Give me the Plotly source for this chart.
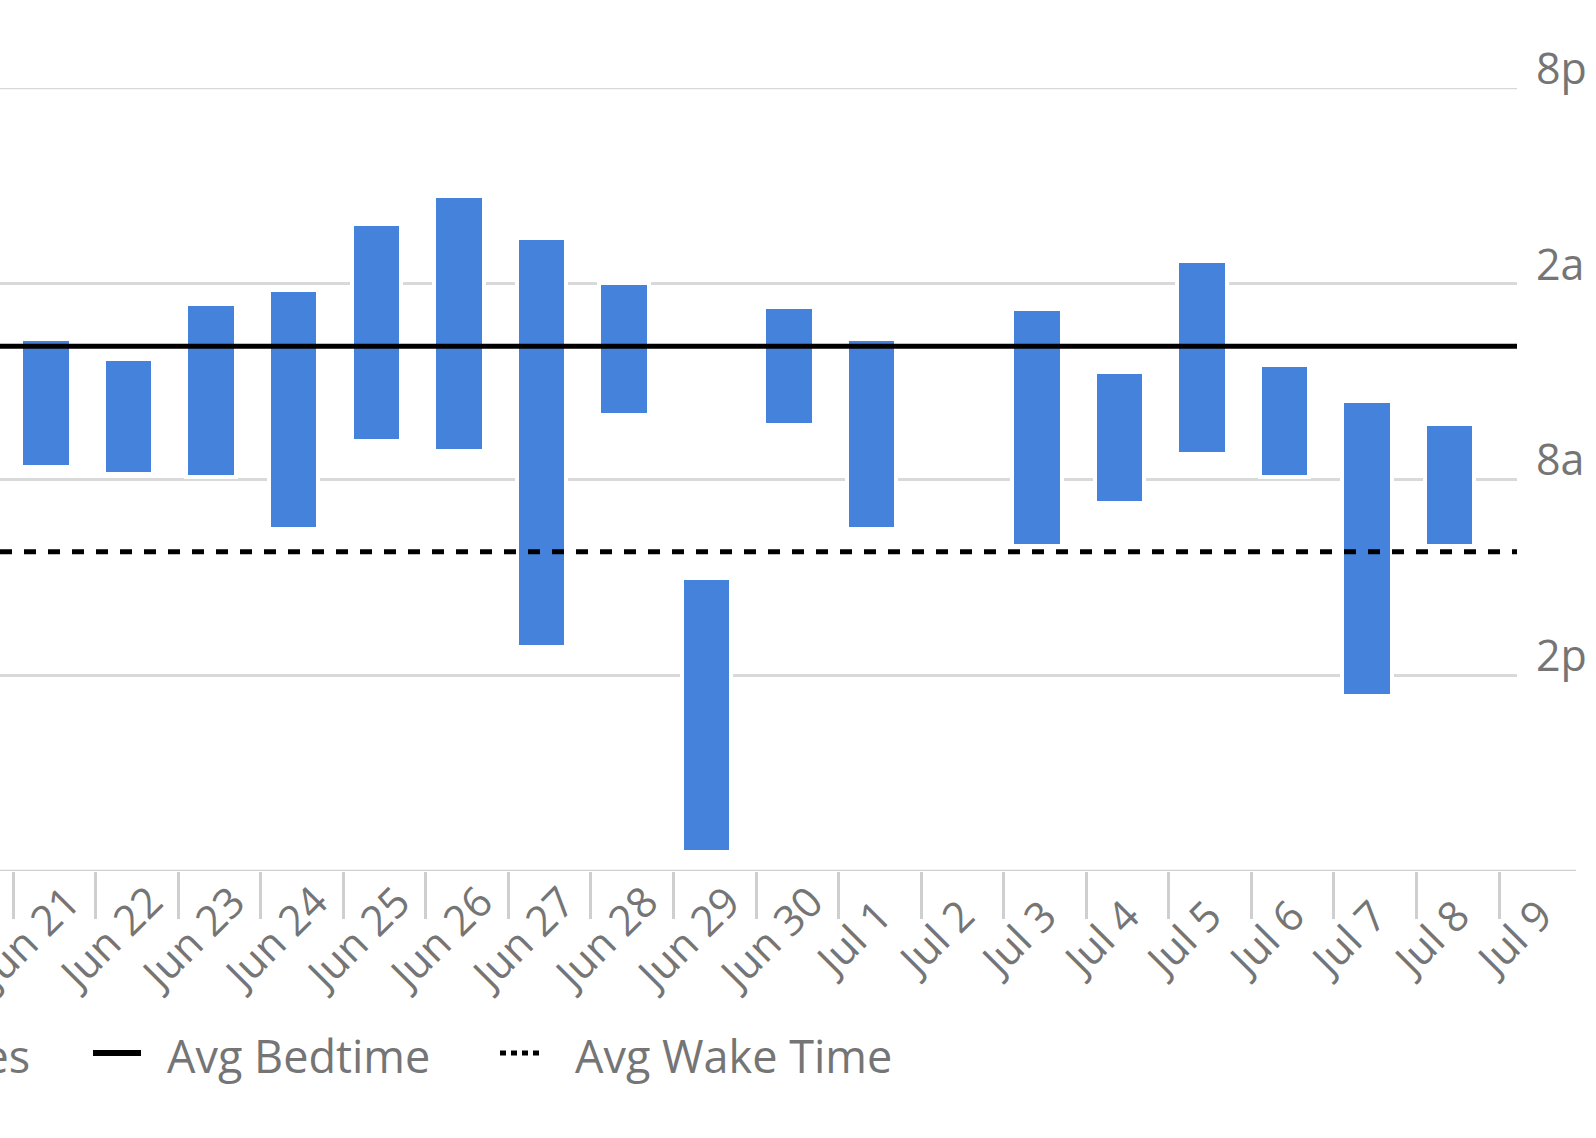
import plotly.graph_objects as go

# ---------------- data ----------------
day_labels = ["Jun 21", "Jun 22", "Jun 23", "Jun 24", "Jun 25", "Jun 26", "Jun 27",
              "Jun 28", "Jun 29", "Jun 30", "Jul 1", "Jul 2", "Jul 3", "Jul 4",
              "Jul 5", "Jul 6", "Jul 7", "Jul 8", "Jul 9"]
bedtimes = ["03:46", "04:22", "02:40", "02:16", "00:14", "23:22", "00:40", "02:03",
            "11:04", "02:46", "03:46", None, "02:51", "04:46", "01:21", "04:34",
            "05:40", "06:22"]
wake_times = ["07:34", "07:46", "07:52", "09:28", "06:46", "07:04", "13:04", "05:58",
              "19:22", "06:16", "09:28", None, "09:58", "08:40", "07:10", "07:52",
              "14:34", "09:58"]
avg_bedtime = "03:55"
avg_wake_time = "10:13"
y_tick_times = ["20:00", "02:00", "08:00", "14:00"]
y_tick_text = ["8pm", "2am", "8am", "2pm"]
series_names = ["Sleep Times", "Avg Bedtime", "Avg Wake Time"]

# ---------------- layout constants ----------------
# the reference is a crop of a wider chart: the figure stops at the crop edge
W, H = 1587, 1138
ML, MR, MT, MB = 0, 70, 88, 267
PW, PH = W - ML - MR, H - MT - MB
TICK_PX = 82.56
FIRST_TICK_PX = 13
BAR_COLOR = "#4582dc"
GRID = "#d9d9d9"
AXIS = "#cfcfcf"
TXT = "#757575"
FONT = "Open Sans"
STROKE = 4


def hrs(t):
    hh, mm = t.split(":")
    return ((int(hh) + int(mm) / 60.0) - 20.0) % 24.0


x_range = [-FIRST_TICK_PX / TICK_PX, (PW - FIRST_TICK_PX) / TICK_PX]
pad = (STROKE / 2) / (PH / 24.0)

bx, bbase, bh = [], [], []
for i, (b, w) in enumerate(zip(bedtimes, wake_times)):
    if b is None or w is None:
        continue
    hb, hw = hrs(b), hrs(w)
    bx.append(i + 0.4)
    bbase.append(hb - pad)
    bh.append(hw - hb + 2 * pad)

fig = go.Figure()
fig.add_trace(go.Bar(
    x=bx, y=bh, base=bbase, width=0.6, name=series_names[0],
    marker=dict(color=BAR_COLOR, line=dict(color="white", width=STROKE)),
    showlegend=False,
))
fig.add_trace(go.Scatter(
    x=x_range, y=[hrs(avg_bedtime)] * 2, mode="lines", name=series_names[1],
    line=dict(color="black", width=5), showlegend=False,
))
fig.add_trace(go.Scatter(
    x=x_range, y=[hrs(avg_wake_time)] * 2, mode="lines", name=series_names[2],
    line=dict(color="black", width=5, dash="12px,12px"), showlegend=False,
))


def px_x(p):
    return (p - ML) / PW


def px_y(p):
    return ((MT + PH) - p) / PH


shapes = [
    # top gridline (8pm)
    dict(type="line", xref="paper", yref="y", x0=0, x1=1, y0=hrs(y_tick_times[0]),
         y1=hrs(y_tick_times[0]), line=dict(color=GRID, width=2.5), layer="below"),
    # baseline of the x axis, extending past the plot area
    dict(type="line", xref="paper", yref="y", x0=0, x1=px_x(1576), y0=24, y1=24,
         line=dict(color=AXIS, width=2.5)),
]

annotations = []
label_y = px_y(937)
for i, lab in enumerate(day_labels):
    annotations.append(dict(
        x=i, xref="x", y=label_y, yref="paper", text=lab, showarrow=False,
        textangle=-45, xanchor="center", yanchor="middle", xshift=13,
        font=dict(family=FONT, size=42, color=TXT),
    ))

leg_y = 1053
LFS = 45
annotations.append(dict(x=px_x(32), y=px_y(1055), xref="paper", yref="paper",
                        text=series_names[0], showarrow=False, xanchor="right",
                        yanchor="middle", font=dict(family=FONT, size=LFS, color=TXT)))
shapes.append(dict(type="line", xref="paper", yref="paper", x0=px_x(93), x1=px_x(141),
                   y0=px_y(leg_y), y1=px_y(leg_y), line=dict(color="black", width=6)))
annotations.append(dict(x=px_x(165), y=px_y(1055), xref="paper", yref="paper",
                        text=series_names[1], showarrow=False, xanchor="left",
                        yanchor="middle", font=dict(family=FONT, size=LFS, color=TXT)))
shapes.append(dict(type="line", xref="paper", yref="paper", x0=px_x(500), x1=px_x(542),
                   y0=px_y(leg_y), y1=px_y(leg_y),
                   line=dict(color="black", width=5, dash="6px,5px")))
annotations.append(dict(x=px_x(573), y=px_y(1055), xref="paper", yref="paper",
                        text=series_names[2], showarrow=False, xanchor="left",
                        yanchor="middle", font=dict(family=FONT, size=LFS, color=TXT)))

fig.update_layout(
    width=W, height=H,
    margin=dict(l=ML, r=MR, t=MT, b=MB, pad=0, autoexpand=False),
    paper_bgcolor="white", plot_bgcolor="white",
    bargap=0, showlegend=False,
    shapes=shapes, annotations=annotations,
    font=dict(family=FONT, size=43, color=TXT),
    xaxis=dict(
        type="linear", range=x_range, tickmode="array",
        tickvals=list(range(len(day_labels))), showticklabels=False,
        ticks="outside", ticklen=47, tickwidth=2.5, tickcolor=AXIS,
        showgrid=False, zeroline=False, showline=False, fixedrange=True,
    ),
    yaxis=dict(
        range=[24, 0], autorange=False, side="right",
        tickmode="array", tickvals=[hrs(t) for t in y_tick_times], ticktext=y_tick_text,
        showgrid=True, gridcolor=GRID, gridwidth=2.5, zeroline=False, showline=False,
        ticks="", ticklabelposition="outside top", ticklabelstandoff=18,
        ticklabelshift=-11,
        tickfont=dict(family=FONT, size=43, color=TXT), fixedrange=True,
    ),
)

fig.write_html("out.html", config={"displayModeBar": False},
               post_script="document.body.style.margin='0px';")
